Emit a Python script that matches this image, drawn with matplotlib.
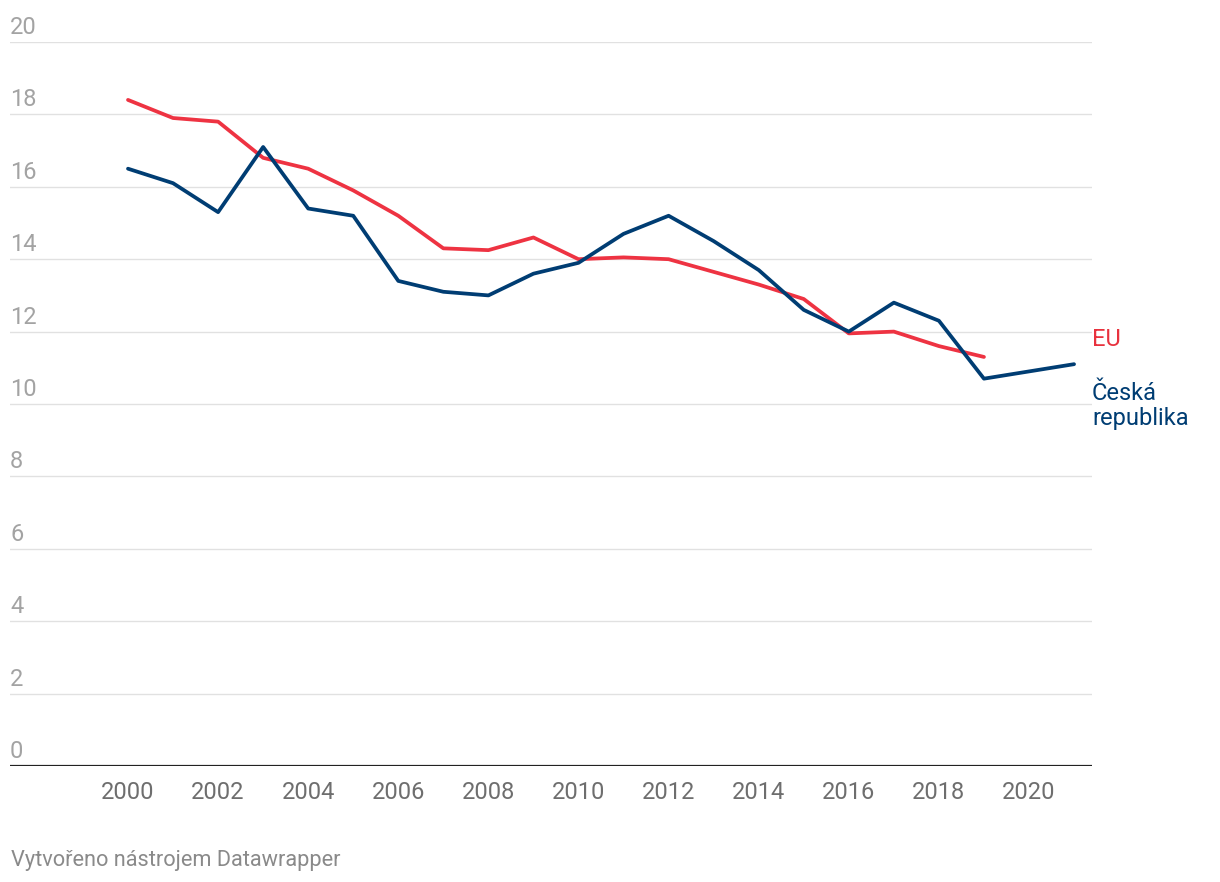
import matplotlib
matplotlib.use("Agg")
import matplotlib.pyplot as plt
import matplotlib.transforms as mtransforms

plt.rcParams['font.family'] = ['Roboto', 'DejaVu Sans']

years_eu = list(range(2000, 2020))
eu = [18.4, 17.9, 17.8, 16.8, 16.5, 15.9, 15.2, 14.3, 14.25, 14.6,
      14.0, 14.05, 14.0, 13.65, 13.3, 12.9, 11.95, 12.0, 11.6, 11.3]

years_cz = list(range(2000, 2022))
cz = [16.5, 16.1, 15.3, 17.1, 15.4, 15.2, 13.4, 13.1, 13.0, 13.6,
      13.9, 14.7, 15.2, 14.5, 13.7, 12.6, 12.0, 12.8, 12.3, 10.7,
      10.9, 11.1]

y_ticks = [0, 2, 4, 6, 8, 10, 12, 14, 16, 18, 20]
x_ticks = list(range(2000, 2021, 2))

label_eu = "EU"
label_cz = "Česká\nrepublika"
footer = "Vytvořeno nástrojem Datawrapper"

RED = '#ee3342'
BLUE = '#003d73'

W, H = 1220, 882
fig = plt.figure(figsize=(W / 100, H / 100), dpi=100)
left, right, top, bottom = 10, 1092, 42, 766
ax = fig.add_axes([left / W, (H - bottom) / H, (right - left) / W, (bottom - top) / H])

ax.set_ylim(0, 20)
x0 = 2000 - (128 - left) / 45.05
x1 = 2020 + (right - 1029) / 45.05
ax.set_xlim(x0, x1)

for s in ax.spines.values():
    s.set_visible(False)

for v in y_ticks:
    if v == 0:
        ax.axhline(v, color='#222222', lw=1.6, zorder=3)
    else:
        ax.axhline(v, color='#e1e1e1', lw=1.0, zorder=0)

FS = 17
ax.set_yticks([])
ax.set_xticks(x_ticks)
ax.set_xticklabels([str(x) for x in x_ticks], fontsize=FS, color='#6e6e6e')
ax.tick_params(axis='x', length=0, pad=11)

offset = mtransforms.ScaledTranslation(0, 8 / 100, fig.dpi_scale_trans)
for v in y_ticks:
    ax.text(0.0, v, str(v), transform=mtransforms.blended_transform_factory(ax.transAxes, ax.transData) + offset,
            ha='left', va='baseline', fontsize=FS, color='#a3a3a3')

ax.plot(years_eu, eu, color=RED, lw=2.7, solid_capstyle='round', solid_joinstyle='round', zorder=4)
ax.plot(years_cz, cz, color=BLUE, lw=2.7, solid_capstyle='round', solid_joinstyle='round', zorder=5)

lab_tr = mtransforms.blended_transform_factory(ax.transAxes, ax.transData)
ax.text(1.0, 11.61, label_eu, transform=lab_tr, ha='left', va='baseline',
        fontsize=FS, color='#e8323e', clip_on=False)
ax.text(1.0, 9.42, label_cz, transform=lab_tr, ha='left', va='baseline',
        fontsize=FS, color=BLUE, linespacing=1.12, clip_on=False)

fig.text(11 / W, 1 - 866 / H, footer, ha='left', va='baseline', fontsize=15.7, color='#8a8a8a')

fig.savefig('out.png', dpi=100)
